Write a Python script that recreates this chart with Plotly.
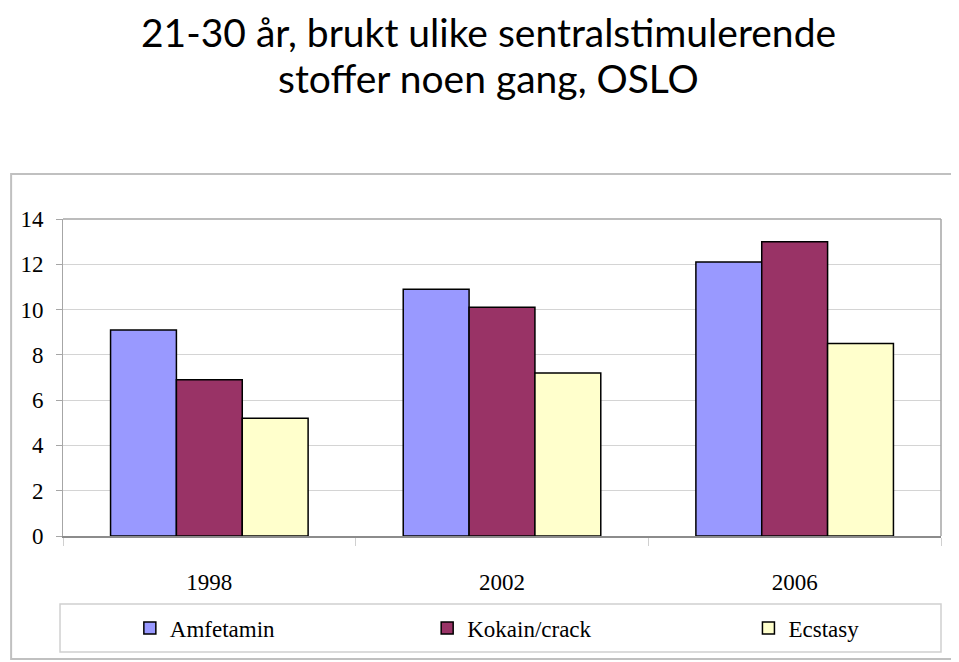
import plotly.graph_objects as go

years = ["1998", "2002", "2006"]
amfetamin = [9.1, 10.9, 12.1]
kokain = [6.9, 10.1, 13.0]
ecstasy = [5.2, 7.2, 8.5]
series_names = ["Amfetamin", "Kokain/crack", "Ecstasy"]
colors = ["#9999FF", "#993366", "#FFFFCC"]
y_ticks = [0, 2, 4, 6, 8, 10, 12, 14]
title_lines = ["21-30 år, brukt ulike sentralstimulerende", "stoffer noen gang, OSLO"]

# page is offset by the 8px body margin
OFF = 8
W, H = 959 - OFF, 662 - OFF
L, R, T, B = 61 - OFF, 941 - OFF, 219 - OFF, 536 - OFF

def px_x(px):  # px in page coordinates
    return (px - OFF - L) / (R - L)

def px_y(py):
    return (B - (py - OFF)) / (B - T)

serif = "Liberation Serif, Times New Roman, serif"

fig = go.Figure()
legend_ids = ["legend", "legend2", "legend3"]
for name, vals, col, lg in zip(series_names, [amfetamin, kokain, ecstasy], colors, legend_ids):
    fig.add_trace(go.Bar(
        x=years, y=vals, name=name, legend=lg,
        marker=dict(color=col, line=dict(color="#000000", width=1.5)),
    ))

legend_text_x = [170, 468, 790]
common_legend = dict(
    orientation="h", yanchor="middle", y=px_y(628), xanchor="left",
    font=dict(family=serif, size=23, color="#000000"),
    bgcolor="rgba(0,0,0,0)", borderwidth=0,
)
legends = {}
for lg, tx in zip(legend_ids, legend_text_x):
    legends[lg] = dict(common_legend, x=px_x(tx - 42))

fig.update_layout(
    width=W, height=H,
    margin=dict(l=L, r=W - R, t=T, b=H - B, pad=0),
    paper_bgcolor="white", plot_bgcolor="white",
    barmode="group", bargap=0.325, bargroupgap=0,
    showlegend=True,
    xaxis=dict(
        type="category", showgrid=False,
        showline=True, linecolor="#8c8c8c", linewidth=2, mirror=False,
        ticks="outside", tickson="boundaries", ticklen=8, tickcolor="#d0d0d0",
        ticklabelstandoff=24,
        tickfont=dict(family=serif, size=23, color="#000000"),
    ),
    yaxis=dict(
        range=[0, 14], tickvals=y_ticks, ticktext=[str(v) for v in y_ticks],
        showgrid=True, gridcolor="#d4d4d4", gridwidth=1,
        showline=True, linecolor="#a6a6a6", linewidth=1, mirror=False,
        ticks="outside", ticklen=6, tickcolor="#a6a6a6",
        ticklabelstandoff=8,
        tickfont=dict(family=serif, size=23, color="#000000"),
        zeroline=False,
    ),
    **legends,
)

title_font = dict(family="Lato, Noto Sans, sans-serif", size=39, color="#000000")
for line, top in zip(title_lines, [OFF, OFF + 46]):
    fig.add_annotation(
        text=line, xref="paper", yref="paper", x=px_x(487), y=px_y(top),
        xanchor="center", yanchor="top", showarrow=False, borderpad=0,
        font=title_font,
    )

# plot area top and right border
fig.add_shape(type="line", xref="paper", yref="paper", x0=0, x1=1, y0=1, y1=1,
              line=dict(color="#a6a6a6", width=1.5))
fig.add_shape(type="line", xref="paper", yref="paper", x0=1, x1=1, y0=0, y1=1,
              line=dict(color="#a6a6a6", width=1.5))
# outer chart border
fig.add_shape(type="rect", xref="paper", yref="paper",
              x0=px_x(9), x1=px_x(957), y0=px_y(659), y1=px_y(174),
              line=dict(color="#c0c0c0", width=2), layer="below")
# legend box
fig.add_shape(type="rect", xref="paper", yref="paper",
              x0=px_x(58), x1=px_x(941), y0=px_y(652), y1=px_y(604),
              line=dict(color="#d0d0d0", width=1.5), layer="below")

fig.write_html("out.html")
